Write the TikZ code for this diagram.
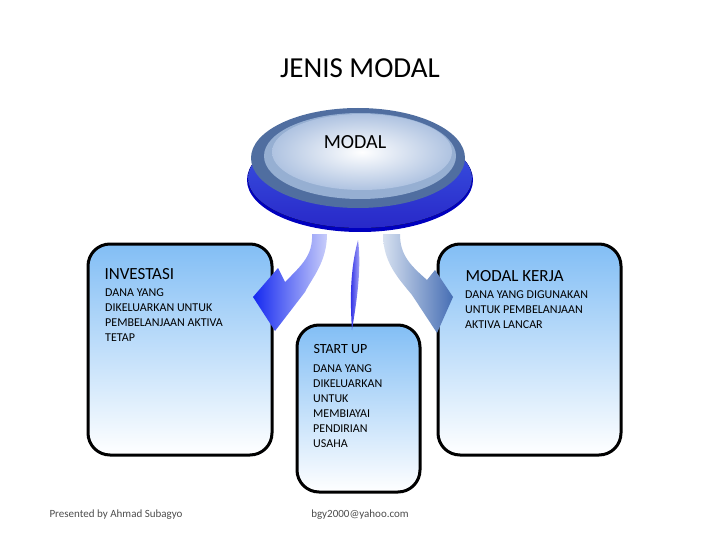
\documentclass[tikz,border=0pt]{standalone}
\usepackage{fontspec}
\setmainfont{Carlito}
\definecolor{boxtop}{RGB}{130,190,245}
\definecolor{discA}{RGB}{60,90,230}
\definecolor{discB}{RGB}{40,40,200}
\definecolor{discC}{RGB}{80,110,160}
\definecolor{discD}{RGB}{150,175,210}
\definecolor{discE}{RGB}{175,195,225}
\definecolor{arL1}{RGB}{20,40,240}
\definecolor{arL2}{RGB}{200,205,250}
\definecolor{arR1}{RGB}{70,110,180}
\definecolor{arR2}{RGB}{215,225,240}
\definecolor{arM1}{RGB}{40,40,230}
\definecolor{arM2}{RGB}{200,200,250}
\begin{document}
\begin{tikzpicture}[x=1pt,y=-1pt,
  box/.style={draw=black,line width=3pt,rounded corners=22pt,top color=boxtop,bottom color=white},
  head/.style={font=\fontsize{17}{19}\selectfont,anchor=west},
  body/.style={font=\fontsize{12}{15}\selectfont,anchor=north west,align=left,inner sep=0pt},
  foot/.style={font=\fontsize{11}{13}\selectfont,text=black!70}]
\useasboundingbox (0,0) rectangle (720,540);
\node[font=\fontsize{29}{32}\selectfont] (title) at (360,68) {JENIS MODAL};
% boxes
\path[box] (88,244) rectangle (272,455);
\path[box] (438,244) rectangle (621,455);
\path[box] (297,325) rectangle (420,492);
% disc
\fill[blue!75!black] (360,180) ellipse (113 and 52);
\fill[top color=discA,bottom color=discB] (360,178) ellipse (112 and 50);
\fill[discC] (358,158) ellipse (107 and 50);
\fill[discD] (360,156) ellipse (96 and 43);
\shade[inner color=white,outer color=discE] (362,152) ellipse (90 and 38);
\node[font=\fontsize{20}{22}\selectfont] (modal) at (355,142) {MODAL};
% arrows
\shade[left color=arL1,right color=arL2]
  (327,234) .. controls (327,262) and (312,278) .. (305,292) -- (275,331) -- (253,297) -- (278,268)
  -- (285,282) .. controls (302,265) and (313,255) .. (312,234) -- cycle;
\shade[right color=arR1,left color=arR2]
  (383,234) .. controls (383,262) and (398,278) .. (412,295) -- (437,333) -- (453,297) -- (435,270)
  -- (427,280) .. controls (410,265) and (400,255) .. (400,234) -- cycle;
\shade[left color=arM1,right color=arM2]
  (358,240) .. controls (362,270) and (356,305) .. (352,330) .. controls (350,300) and (350,270) .. (358,240) -- cycle;
% texts
\node[head] (inv) at (101,274) {INVESTASI};
\node[body] (invt) at (105,289) {DANA YANG\\DIKELUARKAN UNTUK\\PEMBELANJAAN AKTIVA\\TETAP};
\node[head] (mk) at (462,276) {MODAL KERJA};
\node[body] (mkt) at (465,291) {DANA YANG DIGUNAKAN\\UNTUK PEMBELANJAAN\\AKTIVA LANCAR};
\node[head,font=\fontsize{14}{16}\selectfont] (su) at (310,349) {START UP};
\node[body] (sut) at (313,365) {DANA YANG\\DIKELUARKAN\\UNTUK\\MEMBIAYAI\\PENDIRIAN\\USAHA};
\node[foot] (f1) at (116,515) {Presented by Ahmad Subagyo};
\node[foot] (f2) at (360,515) {bgy2000@yahoo.com};
\end{tikzpicture}
\end{document}
